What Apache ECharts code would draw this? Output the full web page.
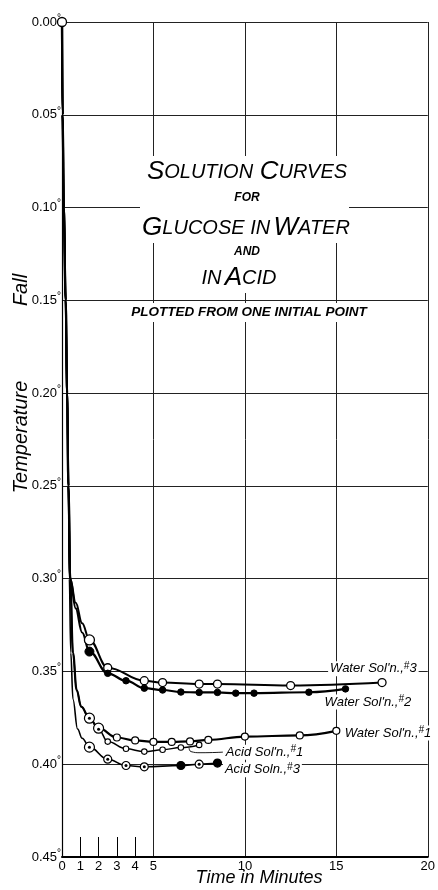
<!DOCTYPE html>
<html><head><meta charset="utf-8">
<script src="https://cdn.jsdelivr.net/npm/echarts@6/dist/echarts.min.js"></script>
<style>html,body{margin:0;padding:0;background:#fff}#c{width:438px;height:890px}</style>
</head><body><div id="c"></div>
<script>
// ---- data (time in minutes, temperature fall in degrees) ----
const xTickLabels = [0, 1, 2, 3, 4, 5, 10, 15, 20];
const xMinorTicks = [1, 2, 3, 4];
const yTicks = [0, 0.05, 0.10, 0.15, 0.20, 0.25, 0.30, 0.35, 0.40, 0.45];

const originT = [0];
const originY = [0];

// steep common initial drop (unmarked)
const dropT = [0, 0.03, 0.1, 0.2, 0.28, 0.35];
const dropY = [0, 0.05, 0.10, 0.15, 0.20, 0.25];

// lead-in parts after the drop (unmarked)
const leadW3T = [0.45, 0.75, 1.1];
const leadW3Y = [0.30, 0.313, 0.324];
const leadW2T = [0.45, 0.75, 1.1];
const leadW2Y = [0.30, 0.316, 0.329];
const leadW1T = [0.45, 0.6, 0.8, 1.05];
const leadW1Y = [0.30, 0.34, 0.36, 0.369];
const leadA3T = [0.4, 0.48, 0.6, 0.85, 1.1];
const leadA3Y = [0.30, 0.34, 0.365, 0.381, 0.386];

// measured points
const timeW3 = [1.5, 2.5, 4.5, 5.5, 7.5, 8.5, 12.5, 17.5];
const fallW3 = [0.333, 0.348, 0.355, 0.356, 0.3568, 0.3568, 0.3576, 0.356];

const timeW2 = [1.5, 2.5, 3.5, 4.5, 5.5, 6.5, 7.5, 8.5, 9.5, 10.5, 13.5, 15.5];
const fallW2 = [0.3393, 0.351, 0.355, 0.359, 0.36, 0.3611, 0.3613, 0.3613, 0.3617, 0.3617, 0.3612, 0.3594];

const timeW1 = [1.5, 2, 3, 4, 5, 6, 7, 8, 10, 13, 15];
const fallW1 = [0.3752, 0.3806, 0.3856, 0.3872, 0.388, 0.388, 0.3877, 0.3869, 0.3851, 0.3845, 0.382];

const timeA1 = [2.5, 3.5, 4.5, 5.5, 6.5, 7.5];
const fallA1 = [0.3878, 0.3917, 0.3932, 0.3922, 0.391, 0.3896];
const sharedA1T = [1.5, 2];          // points shared with Water Sol'n #1
const sharedA1Y = [0.3752, 0.3811];

const timeA3 = [1.5, 2.5, 3.5, 4.5, 6.5, 7.5, 8.5];
const fallA3 = [0.3908, 0.3973, 0.4007, 0.4014, 0.4007, 0.40, 0.3994];
const filledA3 = [6.5, 8.5];

// curve labels anchored in data coordinates
const labelNames = ["Water Sol'n.,", "Water Sol'n.,", "Water Sol'n.,", "Acid Sol'n.,", "Acid Soln.,"];
const labelNums = ["3", "2", "1", "1", "3"];
const labelT = [14.55, 14.25, 15.35, 8.85, 8.8];
const labelY = [0.3485, 0.3665, 0.3832, 0.3935, 0.4030];
const leaderT = [8.8, 7.6, 7.05, 6.95];
const leaderY = [0.3935, 0.3938, 0.3932, 0.3913];

// ---- build ----
const zip = (a, b) => a.map((v, i) => [v, b[i]]);
const cat = (...parts) => [].concat(...parts);

const lineW3 = zip(cat(dropT, leadW3T, timeW3), cat(dropY, leadW3Y, fallW3));
const lineW2 = zip(cat(dropT, leadW2T, timeW2), cat(dropY, leadW2Y, fallW2));
const lineW1 = zip(cat(dropT, leadW1T, timeW1), cat(dropY, leadW1Y, fallW1));
const lineA1 = zip(cat(dropT, leadW1T, sharedA1T, timeA1), cat(dropY, leadW1Y, sharedA1Y, fallA1));
const lineA3 = zip(cat(dropT, leadA3T, timeA3), cat(dropY, leadA3Y, fallA3));

const FONT = "'Liberation Sans', 'DejaVu Sans', sans-serif";

function curve(data, width) {
  return { type: 'line', data, smooth: 0.4, smoothMonotone: 'x', showSymbol: false, symbol: 'none',
    lineStyle: { color: '#000', width }, z: 3, silent: true, animation: false };
}
function dots(data, size, fill, bw, z) {
  return { type: 'scatter', data, symbol: 'circle', symbolSize: size,
    itemStyle: { color: fill, borderColor: '#000', borderWidth: bw, opacity: 1 }, z: z || 5, silent: true, animation: false };
}

const chart = echarts.init(document.getElementById('c'), null, { renderer: 'canvas', width: 438, height: 890 });

const opt = {
  animation: false,
  backgroundColor: '#fff',
  grid: { left: 62, right: 7, top: 22, bottom: 33, containLabel: false },
  xAxis: [{
    type: 'value', min: 0, max: 20, interval: 1, position: 'bottom',
    axisLine: { show: true, onZero: false, lineStyle: { color: '#000', width: 2 } },
    axisTick: { show: true, inside: true, length: 20, customValues: xMinorTicks, lineStyle: { color: '#000', width: 1 } },
    axisLabel: { show: true, customValues: xTickLabels, margin: 3, color: '#000', fontFamily: FONT, fontSize: 13 },
    splitLine: { show: false }
  }, {
    type: 'value', min: 0, max: 20, interval: 5, position: 'bottom',
    axisLine: { show: false, onZero: false }, axisTick: { show: false }, axisLabel: { show: false },
    splitLine: { show: true, lineStyle: { color: '#222', width: 1 } }
  }],
  yAxis: {
    type: 'value', inverse: true, min: 0, max: 0.45, interval: 0.05,
    axisLine: { show: true, onZero: false, lineStyle: { color: '#000', width: 1.2 } },
    axisTick: { show: false },
    axisLabel: {
      margin: 1, color: '#000', fontFamily: FONT,
      formatter: v => '{n|' + v.toFixed(2) + '}{d|°}',
      rich: { n: { fontSize: 13, fontFamily: FONT, color: '#000' },
              d: { fontSize: 10, fontFamily: FONT, color: '#000', padding: [0, 0, 8, 0] } }
    },
    splitLine: { show: true, lineStyle: { color: '#222', width: 1 } }
  },
  series: [
    curve(lineW3, 2), curve(lineW2, 2.2), curve(lineW1, 2.2), curve(lineA1, 1.5), curve(lineA3, 1.6),
    { type: 'line', data: zip(leaderT, leaderY), smooth: 0.5, showSymbol: false, symbol: 'none',
      lineStyle: { color: '#000', width: 0.9 }, z: 3, silent: true },
    dots(zip(originT, originY), 9, '#fff', 1.3, 6),
    dots(zip(timeW3, fallW3).map((p, i) => ({ value: p, symbolSize: i === 0 ? 10 : 8 })), 8, '#fff', 1.3),
    dots(zip(timeW2, fallW2).map((p, i) => ({ value: p, symbolSize: i === 0 ? 9 : 6.5 })), 6.5, '#000', 1),
    dots(zip(timeW1, fallW1).map((p, i) => ({ value: p, symbolSize: i < 2 ? 10 : 7 })), 7, '#fff', 1.2),
    dots(zip(timeA1, fallA1), 5.5, '#fff', 1.1),
    dots(zip(timeA3, fallA3).map((p, i) => ({ value: p, symbolSize: i === 0 ? 10 : 8,
      itemStyle: { color: filledA3.indexOf(p[0]) >= 0 ? '#000' : '#fff' } })), 8, '#fff', 1.2),
    // centre dots of circled points
    dots(cat(zip(timeA3, fallA3), zip(sharedA1T, sharedA1Y)), 3, '#000', 0, 7)
  ],
  graphic: []
};
chart.setOption(opt);

// decorative title block (white boxes break the grid like the original lettering)
const T = { fontFamily: FONT, fontStyle: 'italic', fill: '#000' };
const g = [];
function rect(x, y, w, h) { g.push({ type: 'rect', shape: { x, y, width: w, height: h }, style: { fill: '#fff' }, z: 10, silent: true }); }
function txt(text, x, y, rich, extra) {
  g.push({ type: 'text', x, y, z: 11, silent: true,
    style: Object.assign({ text, align: 'center', verticalAlign: 'middle', rich }, T, extra || {}) });
}
rect(140, 156, 209, 87);
rect(196, 243, 88, 50);
rect(100, 303, 298, 19);
const big = { fontSize: 26, fontStyle: 'italic', fontFamily: FONT };
const sm = { fontSize: 20, fontStyle: 'italic', fontFamily: FONT };
txt('{b|S}{s|OLUTION}  {b|C}{s|URVES}', 247, 172, { b: big, s: sm });
txt('FOR', 247, 198, null, { fontSize: 12, fontWeight: 'bold' });
txt('{b|G}{s|LUCOSE IN} {b|W}{s|ATER}', 246, 228, { b: big, s: sm });
txt('AND', 247, 252, null, { fontSize: 12, fontWeight: 'bold' });
txt('{s|IN} {b|A}{s|CID}', 239, 278, { b: big, s: sm });
txt('PLOTTED FROM ONE INITIAL POINT', 249, 312, null, { fontSize: 13.5, fontWeight: 'bold', letterSpacing: 1 });

// axis titles
g.push({ type: 'text', x: 21, y: 437, rotation: Math.PI / 2, z: 11, silent: true,
  style: Object.assign({ text: 'Temperature', align: 'center', verticalAlign: 'middle', fontSize: 20 }, T) });
g.push({ type: 'text', x: 21, y: 290, rotation: Math.PI / 2, z: 11, silent: true,
  style: Object.assign({ text: 'Fall', align: 'center', verticalAlign: 'middle', fontSize: 20 }, T) });
g.push({ type: 'text', x: 259, y: 878, z: 11, silent: true,
  style: Object.assign({ text: 'Time in Minutes', align: 'center', verticalAlign: 'middle', fontSize: 18 }, T) });

// curve labels
const lr = { m: { fontSize: 13, fontStyle: 'italic', fontFamily: FONT },
             h: { fontSize: 10, fontStyle: 'italic', fontFamily: FONT, padding: [0, 0, 5, 0] } };
labelNames.forEach((name, i) => {
  const p = chart.convertToPixel({ xAxisIndex: 0, yAxisIndex: 0 }, [labelT[i], labelY[i]]);
  g.push({ type: 'text', x: p[0], y: p[1], z: 11, silent: true,
    style: Object.assign({ text: '{m|' + name + '}{h|#}{m|' + labelNums[i] + '}', align: 'left', verticalAlign: 'middle',
      rich: lr, backgroundColor: '#fff', padding: [0, 2, 0, 2] }, T) });
});
chart.setOption({ graphic: g });
</script></body></html>
